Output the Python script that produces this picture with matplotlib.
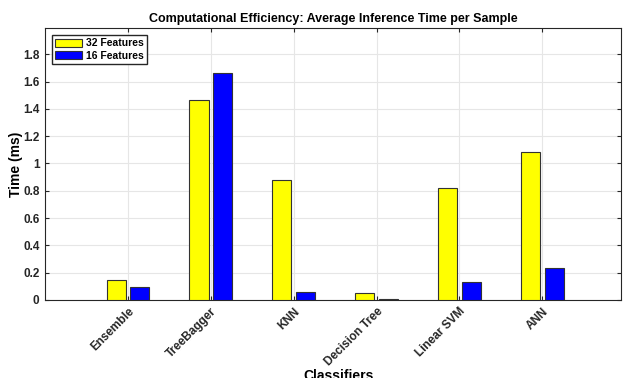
import numpy as np
import matplotlib.pyplot as plt

plt.rcParams['font.family'] = ['Liberation Sans', 'DejaVu Sans']

# Gegevens
classifiers = ['Ensemble', 'TreeBagger', 'KNN', 'Decision Tree', 'Linear SVM', 'ANN']
time_32 = [0.146, 1.465, 0.876, 0.050, 0.818, 1.087]
time_16 = [0.094, 1.660, 0.062, 0.010, 0.130, 0.234]

x = np.arange(1, len(classifiers) + 1)
breedte = 0.23
offset = 0.142

fig = plt.figure(figsize=(6.24, 3.78), dpi=100)
ax = fig.add_axes([45 / 624, 78 / 378, 576 / 624, 272 / 378])

ax.bar(x - offset, time_32, breedte, color='#ffff00', edgecolor='#333333', linewidth=0.8,
       label='32 Features', zorder=3)
ax.bar(x + offset, time_16, breedte, color='#0000ff', edgecolor='#333333', linewidth=0.8,
       label='16 Features', zorder=3)

ax.set_xlim(0, 6.95)
ax.set_ylim(0, 1.992)
ax.set_xticks(x)
ax.set_xticklabels(classifiers, rotation=45, ha='right', rotation_mode='anchor',
                   fontsize=8.5, fontweight='bold', color='#262626')
ax.set_yticks(np.arange(0, 1.81, 0.2))
ax.set_yticklabels(['0', '0.2', '0.4', '0.6', '0.8', '1', '1.2', '1.4', '1.6', '1.8'],
                   fontsize=8.5, fontweight='bold', color='#262626')

ax.tick_params(direction='in', length=3, color='#262626', top=True, right=True, pad=4)
ax.grid(True, color='#e6e6e6', linewidth=0.8, zorder=0)
for sp in ax.spines.values():
    sp.set_color('#262626')
    sp.set_linewidth(0.8)

ax.set_title('Computational Efficiency: Average Inference Time per Sample',
             fontsize=9, fontweight='bold', pad=4)
ax.set_ylabel('Time (ms)', fontsize=10, fontweight='bold', labelpad=0)
ax.set_xlabel('Classifiers', fontsize=10, fontweight='bold', labelpad=1)
ax.xaxis.set_label_coords(0.51, -0.255)

ax.legend(loc='upper left', prop={'weight': 'bold', 'size': 7.5},
          frameon=True, fancybox=False, edgecolor='#262626', framealpha=1,
          borderpad=0.3, handlelength=2.6, handleheight=0.9, handletextpad=0.3,
          labelspacing=0.2, borderaxespad=0.7)

fig.savefig('out.png', dpi=100)
